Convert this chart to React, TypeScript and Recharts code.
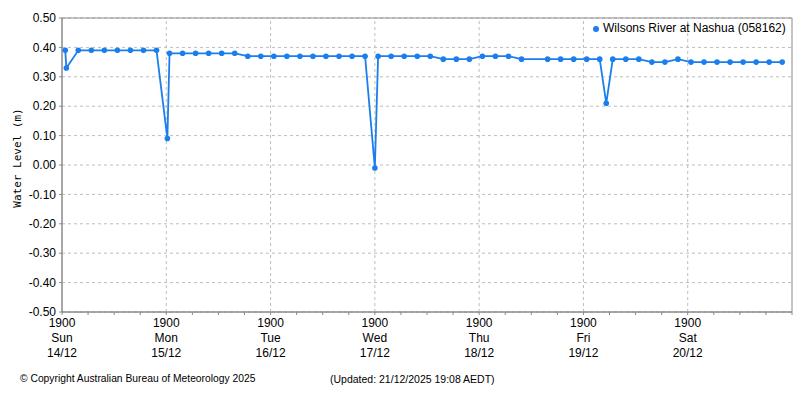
import { LineChart, Line, XAxis, YAxis, CartesianGrid, ReferenceLine, ReferenceArea, Legend } from "recharts";

// hours since Sun 14/12 19:00
const hours = [
  0.75, 1.0, 3.75, 6.75, 9.75, 12.75, 15.75, 18.75, 21.75,
  24.25, 24.75, 27.75, 30.75, 33.75, 36.75, 39.75, 42.75, 45.75,
  48.75, 51.75, 54.75, 57.75, 60.75, 63.75, 66.75, 69.75,
  72.0, 72.75, 75.75, 78.75, 81.75, 84.75, 87.75, 90.75, 93.75,
  96.75, 99.75, 102.75, 105.75, 111.75, 114.75, 117.75,
  120.75, 123.75, 125.25, 126.75, 129.75, 132.75, 135.75, 138.75, 141.75,
  144.75, 147.75, 150.75, 153.75, 156.75, 159.75, 162.75, 165.75,
];

const levels = [
  0.39, 0.33, 0.39, 0.39, 0.39, 0.39, 0.39, 0.39, 0.39,
  0.09, 0.38, 0.38, 0.38, 0.38, 0.38, 0.38, 0.37, 0.37,
  0.37, 0.37, 0.37, 0.37, 0.37, 0.37, 0.37, 0.37,
  -0.01, 0.37, 0.37, 0.37, 0.37, 0.37, 0.36, 0.36, 0.36,
  0.37, 0.37, 0.37, 0.36, 0.36, 0.36, 0.36,
  0.36, 0.36, 0.21, 0.36, 0.36, 0.36, 0.35, 0.35, 0.36,
  0.35, 0.35, 0.35, 0.35, 0.35, 0.35, 0.35, 0.35,
];

const dayNames = ["Sun", "Mon", "Tue", "Wed", "Thu", "Fri", "Sat"];
const dayDates = ["14/12", "15/12", "16/12", "17/12", "18/12", "19/12", "20/12"];
const dayStarts = [24, 48, 72, 96, 120, 144];
const xTicks = [0, 6, 12, 18, 24, 30, 36, 42, 48, 54, 60, 66, 72, 78, 84, 90, 96, 102, 108, 114, 120, 126, 132, 138, 144, 150, 156, 162, 168];
const yTicks = [-0.5, -0.4, -0.3, -0.2, -0.1, 0, 0.1, 0.2, 0.3, 0.4, 0.5];

const seriesName = "Wilsons River at Nashua (058162)";
const BLUE = "#1a7fec";
const FONT = "'Liberation Sans', Arial, sans-serif";

const data = hours.map((h, i) => ({ h, level: levels[i] }));

function DayTick(props: any) {
  const { x, y, payload } = props;
  const v = payload.value;
  if (v % 24 !== 0 || v >= 168) return <g />;
  const i = v / 24;
  return (
    <text x={x} y={y} textAnchor="middle" fontSize={12} fill="#000" fontFamily={FONT}>
      <tspan x={x} dy={10}>1900</tspan>
      <tspan x={x} dy={15}>{dayNames[i]}</tspan>
      <tspan x={x} dy={15}>{dayDates[i]}</tspan>
    </text>
  );
}

export default function App() {
  return (
    <div style={{ position: "absolute", left: 0, top: 0, width: 800, height: 400, background: "#fff", fontFamily: FONT }}>
      <LineChart width={800} height={400} data={data} margin={{ top: 18, right: 8, bottom: 38, left: 12 }}>
        <CartesianGrid vertical={false} stroke="#bdbdbd" strokeDasharray="3 3" />
        {dayStarts.map((d) => (
          <ReferenceLine key={d} x={d} stroke="#bdbdbd" strokeDasharray="3 3" />
        ))}
        <ReferenceArea x1={0} x2={168} y1={-0.5} y2={0.5} fill="none" stroke="#8a8a8a" strokeWidth={1} />
        <XAxis
          dataKey="h"
          type="number"
          domain={[0, 168]}
          ticks={xTicks}
          interval={0}
          height={50}
          tickSize={3}
          tickMargin={2}
          stroke="#8a8a8a"
          tick={<DayTick />}
        />
        <YAxis
          type="number"
          domain={[-0.5, 0.5]}
          ticks={yTicks}
          interval={0}
          width={50}
          tickSize={3}
          tickMargin={3}
          stroke="#8a8a8a"
          tick={{ fill: "#000", fontSize: 12, fontFamily: FONT }}
          tickFormatter={(v: number) => v.toFixed(2)}
        />
        <Legend
          layout="vertical"
          align="center"
          verticalAlign="middle"
          iconType="circle"
          iconSize={6}
          wrapperStyle={{ top: 21, left: 593, width: 205, height: 18, fontSize: 12, fontFamily: FONT }}
          formatter={(value: string) => <span style={{ color: "#000" }}>{value}</span>}
        />
        <Line
          type="linear"
          dataKey="level"
          name={seriesName}
          stroke={BLUE}
          strokeWidth={1.8}
          dot={{ r: 2.8, fill: BLUE, stroke: BLUE, strokeWidth: 0 }}
          activeDot={false}
          isAnimationActive={false}
        />
      </LineChart>
      <div
        style={{
          position: "absolute",
          left: 17,
          top: 158,
          transform: "translate(-50%, -50%) rotate(-90deg)",
          fontFamily: "'DejaVu Sans Mono', monospace",
          fontSize: 11,
          whiteSpace: "nowrap",
          color: "#000",
        }}
      >
        Water Level (m)
      </div>
      <div style={{ position: "absolute", left: 20, top: 373, fontSize: 10.3, color: "#000", whiteSpace: "nowrap" }}>
        © Copyright Australian Bureau of Meteorology 2025
      </div>
      <div style={{ position: "absolute", left: 330, top: 373, fontSize: 10.5, color: "#000", whiteSpace: "nowrap" }}>
        (Updated: 21/12/2025 19:08 AEDT)
      </div>
    </div>
  );
}
